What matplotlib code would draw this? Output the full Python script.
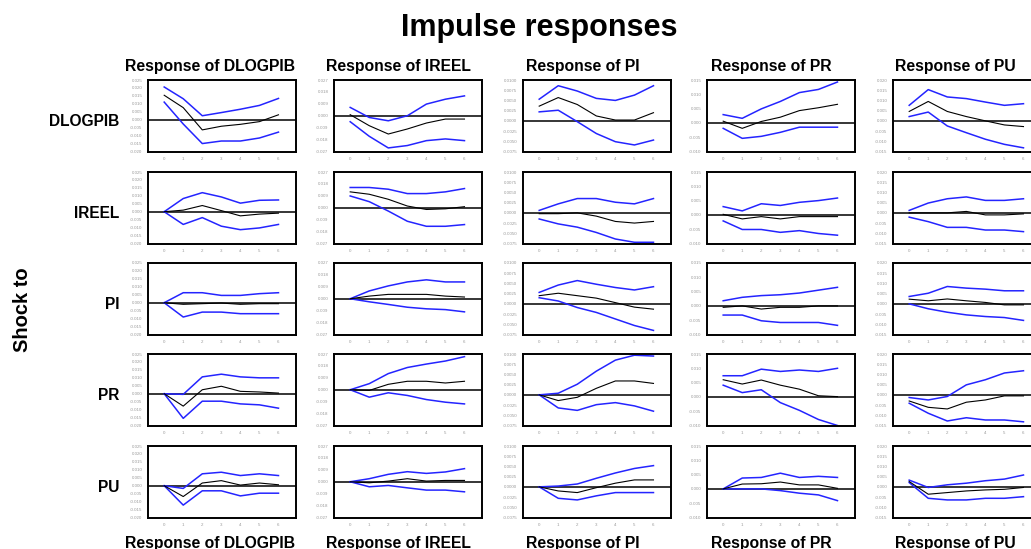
import matplotlib
matplotlib.use("Agg")
import matplotlib.pyplot as plt
import numpy as np

plt.rcParams['font.family'] = ['Liberation Sans', 'DejaVu Sans']

horizons = [0, 1, 2, 3, 4, 5, 6]
variables = ['DLOGPIB', 'IREEL', 'PI', 'PR', 'PU']

# Each block: one row per shock (DLOGPIB, IREEL, PI, PR, PU)
# Response of DLOGPIB
dlogpib_resp = [
    [0.0154, 0.0076, -0.0064, -0.0041, -0.0029, -0.0012, 0.0031],
    [0.0, 0.0010, 0.0039, 0.0007, -0.0026, -0.0015, -0.0009],
    [0.0, -0.0010, -0.0006, -0.0002, -0.0010, -0.0006, -0.0006],
    [0.0, -0.0078, 0.0025, 0.0047, 0.0015, 0.0011, 0.0004],
    [0.0, -0.0068, 0.0017, 0.0032, 0.0004, 0.0017, 0.0006],
]
dlogpib_up = [
    [0.0206, 0.0132, 0.0025, 0.0045, 0.0066, 0.0090, 0.0134],
    [0.0, 0.0083, 0.0120, 0.0093, 0.0054, 0.0072, 0.0074],
    [0.0, 0.0063, 0.0063, 0.0046, 0.0046, 0.0057, 0.0063],
    [0.0, -0.0004, 0.0106, 0.0123, 0.0106, 0.0100, 0.0100],
    [0.0, -0.0017, 0.0075, 0.0085, 0.0064, 0.0075, 0.0064],
]
dlogpib_lo = [
    [0.0111, -0.0027, -0.0150, -0.0134, -0.0134, -0.0115, -0.0078],
    [0.0, -0.0080, -0.0037, -0.0091, -0.0113, -0.0102, -0.0080],
    [0.0, -0.0090, -0.0059, -0.0059, -0.0069, -0.0069, -0.0069],
    [0.0, -0.0155, -0.0047, -0.0047, -0.0064, -0.0070, -0.0091],
    [0.0, -0.0122, -0.0032, -0.0032, -0.0064, -0.0047, -0.0047],
]

# Response of IREEL
ireel_resp = [
    [0.0008, -0.0075, -0.0138, -0.0100, -0.0055, -0.0025, -0.0025],
    [0.0120, 0.0102, 0.0064, 0.0013, -0.0013, -0.0008, 0.0008],
    [0.0, 0.0020, 0.0033, 0.0033, 0.0033, 0.0020, 0.0013],
    [0.0, -0.0005, 0.0041, 0.0064, 0.0064, 0.0051, 0.0064],
    [0.0, -0.0008, 0.0005, 0.0023, 0.0005, 0.0010, 0.0010],
]
ireel_up = [
    [0.0063, -0.0013, -0.0038, 0.0000, 0.0088, 0.0125, 0.0150],
    [0.0153, 0.0153, 0.0140, 0.0107, 0.0107, 0.0120, 0.0145],
    [0.0, 0.0059, 0.0097, 0.0127, 0.0143, 0.0127, 0.0127],
    [0.0, 0.0046, 0.0122, 0.0168, 0.0194, 0.0217, 0.0250],
    [0.0, 0.0023, 0.0056, 0.0076, 0.0063, 0.0074, 0.0099],
]
ireel_lo = [
    [-0.0045, -0.0155, -0.0243, -0.0225, -0.0188, -0.0175, -0.0188],
    [0.0089, 0.0046, -0.0025, -0.0102, -0.0140, -0.0140, -0.0127],
    [0.0, -0.0023, -0.0043, -0.0064, -0.0076, -0.0082, -0.0099],
    [0.0, -0.0056, -0.0023, -0.0043, -0.0074, -0.0094, -0.0107],
    [0.0, -0.0038, -0.0028, -0.0046, -0.0063, -0.0063, -0.0076],
]

# Response of PI
pi_resp = [
    [0.0036, 0.0057, 0.0040, 0.0012, 0.0002, 0.0002, 0.0020],
    [-0.0002, -0.0002, 0.0000, -0.0008, -0.0021, -0.0025, -0.0021],
    [0.0020, 0.0026, 0.0020, 0.0014, 0.0003, -0.0008, -0.0013],
    [0.0, -0.0014, -0.0006, 0.0016, 0.0034, 0.0034, 0.0028],
    [0.0, -0.0010, -0.0014, -0.0002, 0.0009, 0.0017, 0.0017],
]
pi_up = [
    [0.0053, 0.0086, 0.0073, 0.0055, 0.0050, 0.0063, 0.0086],
    [0.0006, 0.0022, 0.0035, 0.0035, 0.0026, 0.0022, 0.0035],
    [0.0028, 0.0046, 0.0057, 0.0048, 0.0040, 0.0034, 0.0042],
    [0.0, 0.0004, 0.0026, 0.0058, 0.0085, 0.0097, 0.0095],
    [0.0, 0.0002, 0.0007, 0.0021, 0.0034, 0.0045, 0.0052],
]
pi_lo = [
    [0.0022, 0.0026, -0.0002, -0.0031, -0.0051, -0.0059, -0.0047],
    [-0.0015, -0.0027, -0.0035, -0.0048, -0.0064, -0.0072, -0.0072],
    [0.0015, 0.0007, -0.0009, -0.0021, -0.0037, -0.0053, -0.0065],
    [0.0, -0.0032, -0.0038, -0.0024, -0.0019, -0.0027, -0.0040],
    [0.0, -0.0028, -0.0032, -0.0022, -0.0014, -0.0014, -0.0014],
]

# Response of PR
pr_resp = [
    [0.0006, -0.0019, 0.0005, 0.0020, 0.0043, 0.0053, 0.0065],
    [0.0002, -0.0014, -0.0006, -0.0014, -0.0006, -0.0006, -0.0006],
    [-0.0005, 0.0000, -0.0011, -0.0005, -0.0005, 0.0000, 0.0000],
    [0.0060, 0.0045, 0.0059, 0.0041, 0.0027, 0.0004, 0.0001],
    [0.0, 0.0017, 0.0018, 0.0024, 0.0014, 0.0014, 0.0002],
]
pr_up = [
    [0.0029, 0.0016, 0.0049, 0.0075, 0.0106, 0.0117, 0.0143],
    [0.0029, 0.0014, 0.0039, 0.0033, 0.0044, 0.0050, 0.0059],
    [0.0018, 0.0030, 0.0036, 0.0039, 0.0045, 0.0055, 0.0065],
    [0.0074, 0.0074, 0.0097, 0.0089, 0.0094, 0.0089, 0.0100],
    [0.0, 0.0038, 0.0040, 0.0055, 0.0040, 0.0044, 0.0040],
]
pr_lo = [
    [-0.0019, -0.0054, -0.0047, -0.0033, -0.0015, -0.0015, -0.0015],
    [-0.0021, -0.0051, -0.0051, -0.0061, -0.0055, -0.0065, -0.0071],
    [-0.0032, -0.0032, -0.0052, -0.0058, -0.0058, -0.0058, -0.0068],
    [0.0041, 0.0015, 0.0025, -0.0020, -0.0047, -0.0079, -0.0100],
    [0.0, 0.0000, 0.0000, -0.0006, -0.0015, -0.0021, -0.0041],
]

# Response of PU
pu_resp = [
    [0.0046, 0.0095, 0.0046, 0.0021, 0.0000, -0.0020, -0.0028],
    [0.0, 0.0000, 0.0000, 0.0007, -0.0010, -0.0010, -0.0005],
    [0.0023, 0.0015, 0.0024, 0.0015, 0.0007, -0.0005, -0.0005],
    [-0.0030, -0.0061, -0.0069, -0.0036, -0.0025, -0.0005, -0.0005],
    [0.0026, -0.0036, -0.0028, -0.0020, -0.0015, -0.0012, -0.0003],
]
pu_up = [
    [0.0076, 0.0153, 0.0117, 0.0109, 0.0092, 0.0076, 0.0084],
    [0.0012, 0.0048, 0.0069, 0.0078, 0.0061, 0.0061, 0.0069],
    [0.0036, 0.0052, 0.0085, 0.0077, 0.0072, 0.0064, 0.0064],
    [-0.0013, -0.0025, -0.0008, 0.0049, 0.0074, 0.0107, 0.0118],
    [0.0033, -0.0003, 0.0010, 0.0018, 0.0030, 0.0038, 0.0058],
]
pu_lo = [
    [0.0021, 0.0043, -0.0025, -0.0058, -0.0090, -0.0115, -0.0132],
    [-0.0021, -0.0043, -0.0071, -0.0071, -0.0084, -0.0084, -0.0092],
    [0.0000, -0.0024, -0.0041, -0.0054, -0.0062, -0.0067, -0.0081],
    [-0.0041, -0.0090, -0.0128, -0.0112, -0.0123, -0.0123, -0.0132],
    [0.0021, -0.0056, -0.0064, -0.0064, -0.0056, -0.0056, -0.0048],
]

responses = [dlogpib_resp, ireel_resp, pi_resp, pr_resp, pu_resp]
uppers = [dlogpib_up, ireel_up, pi_up, pr_up, pu_up]
lowers = [dlogpib_lo, ireel_lo, pi_lo, pr_lo, pu_lo]

# y axis per response column: (min, max, number of ticks, decimals)
y_axes = [(-0.020, 0.025, 10, 3), (-0.027, 0.027, 7, 3), (-0.0075, 0.0100, 8, 4),
          (-0.010, 0.015, 6, 3), (-0.015, 0.020, 8, 3)]

W, H = 1031, 549
col_left = [148, 334, 523, 707, 893]
col_head = [210, 398, 583, 771, 955]
row_top = [80, 172, 263, 354, 446]
ax_w, ax_h = 148, 71.5

fig = plt.figure(figsize=(W / 100, H / 100), dpi=100)
fig.patch.set_facecolor('white')

blue = '#2424ff'
for c in range(5):
    lo_y, hi_y, nt, dec = y_axes[c]
    ticks = np.linspace(lo_y, hi_y, nt)
    labels = [f'{(0.0 if abs(t) < 1e-12 else t):.{dec}f}' for t in ticks]
    for r in range(5):
        ax = fig.add_axes([col_left[c] / W, 1 - (row_top[r] + ax_h) / H, ax_w / W, ax_h / H])
        ax.axhline(0, color='black', lw=1.1, zorder=1)
        ax.plot(horizons, uppers[c][r], color=blue, lw=1.1, zorder=2)
        ax.plot(horizons, lowers[c][r], color=blue, lw=1.1, zorder=2)
        ax.plot(horizons, responses[c][r], color='black', lw=0.8, zorder=3)
        ax.set_xlim(-0.85, 6.92)
        ax.set_ylim(lo_y, hi_y)
        ax.set_xticks(horizons)
        ax.set_xticklabels([str(h) for h in horizons])
        ax.set_yticks(ticks)
        ax.set_yticklabels(labels)
        ax.tick_params(length=0, labelsize=3.2, labelcolor='#9a9a9a', pad=4)
        for s in ax.spines.values():
            s.set_linewidth(1.4)

# headers top and bottom
for c in range(5):
    fig.text(col_head[c] / W, 1 - 71 / H, f'Response of {variables[c]}', ha='center',
             va='baseline', fontsize=11.3, fontweight='bold')
    fig.text(col_head[c] / W, 1 - 548 / H, f'Response of {variables[c]}', ha='center',
             va='baseline', fontsize=11.3, fontweight='bold')

# shock labels
for r in range(5):
    fig.text(119 / W, 1 - (row_top[r] + 41.5) / H, variables[r], ha='right', va='center',
             fontsize=11.2, fontweight='bold')

fig.text(539 / W, 1 - 28 / H, 'Impulse responses', ha='center', va='center',
         fontsize=22, fontweight='bold')
fig.text(22 / W, 1 - 310 / H, 'Shock to', ha='center', va='center', rotation=90,
         fontsize=14.5, fontweight='bold')

fig.savefig('out.png', dpi=100)
